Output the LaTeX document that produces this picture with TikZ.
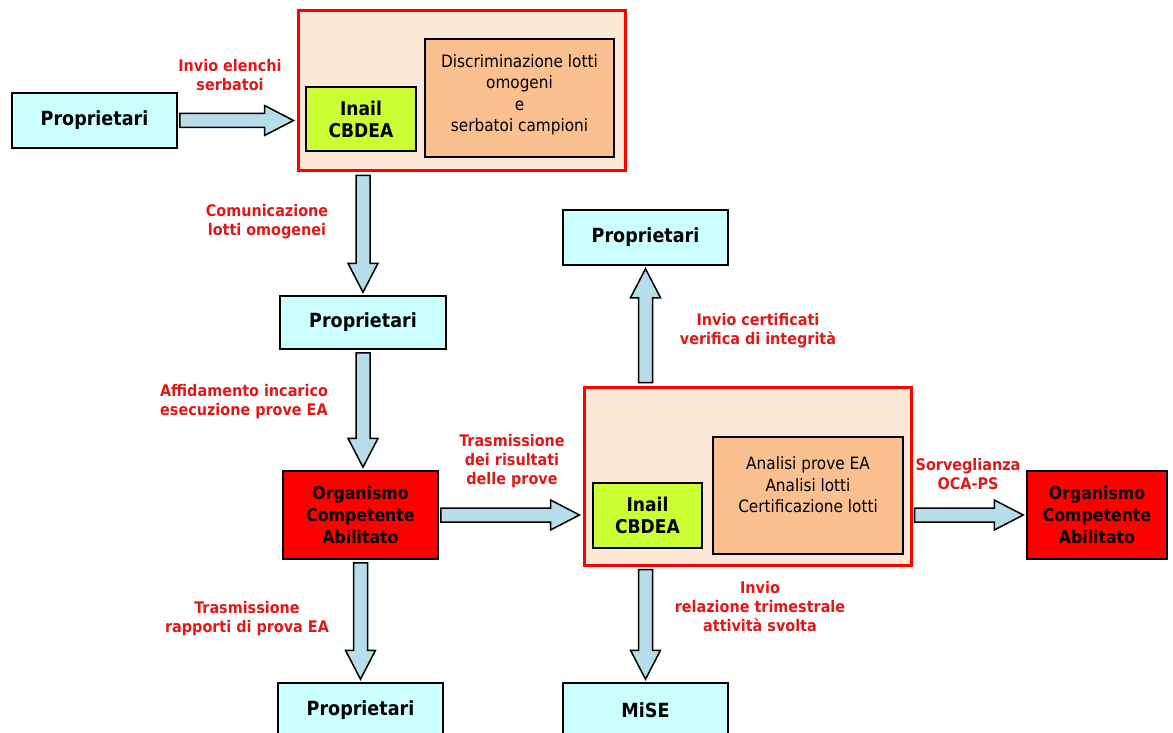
\documentclass[tikz,border=0pt]{standalone}
\usepackage{fontspec}
\setmainfont{DejaVu Sans Condensed}
\usetikzlibrary{calc}
\definecolor{ownercyan}{RGB}{204,255,255}
\definecolor{peachbg}{RGB}{252,232,214}
\definecolor{tanfill}{RGB}{250,192,144}
\definecolor{limefill}{RGB}{204,255,51}
\definecolor{arrowblue}{RGB}{183,221,232}
\definecolor{labelred}{RGB}{226,24,24}
\newcommand{\harrow}[2]{%
  \draw[fatarrow] let \p1=(#1), \p2=(#2) in
    (\x1+2pt,\y1+7pt) -- (\x2-32pt,\y1+7pt) -- (\x2-32pt,\y1+15pt) -- (\x2-3pt,\y1)
    -- (\x2-32pt,\y1-15pt) -- (\x2-32pt,\y1-7pt) -- (\x1+2pt,\y1-7pt) -- cycle;}
\newcommand{\varrow}[2]{%
  \draw[fatarrow] let \p1=(#1), \p2=(#2), \n1={sign(\y2-\y1)} in
    (\x1-7pt,{\y1+\n1*3pt}) -- (\x1-7pt,{\y2-\n1*32pt}) -- (\x1-15pt,{\y2-\n1*32pt}) -- (\x1,{\y2-\n1*3pt})
    -- (\x1+15pt,{\y2-\n1*32pt}) -- (\x1+7pt,{\y2-\n1*32pt}) -- (\x1+7pt,{\y1+\n1*3pt}) -- cycle;}
\begin{document}
\begin{tikzpicture}[x=1pt, y=-1pt,
  ownerbox/.style={draw, line width=1.5pt, fill=ownercyan, minimum width=165pt, minimum height=55pt, font=\bfseries\fontsize{19.5}{22}\selectfont},
  ocabox/.style={draw, line width=1.5pt, fill=red, minimum width=155pt, minimum height=88pt, align=center, font=\bfseries\fontsize{17.5}{22}\selectfont},
  centrebox/.style={draw=red, line width=3pt, fill=peachbg, minimum width=327pt},
  inailbox/.style={draw, line width=1.5pt, fill=limefill, minimum width=110pt, minimum height=64pt, align=center, font=\bfseries\fontsize{19}{22}\selectfont},
  taskbox/.style={draw, line width=1.5pt, fill=tanfill, minimum width=190pt, minimum height=117pt, align=center, font=\fontsize{17}{21.5}\selectfont},
  flowlabel/.style={align=center, text=labelred, font=\bfseries\fontsize{16}{19}\selectfont},
  fatarrow/.style={draw, line width=1.5pt, fill=arrowblue, line join=miter}]
\useasboundingbox (0,0) rectangle (1173,733);
\node[centrebox, minimum height=160pt] (topbox) at (461.5,91) {};
\node[inailbox] (inail1) at (361,119) {Inail\\CBDEA};
\node[taskbox, minimum width=189pt, minimum height=118pt] (discr) at (519.5,98) {Discriminazione lotti\\omogeni\\e\\serbatoi campioni\\[-12pt]\mbox{}};
\node[centrebox, minimum height=178pt] (botbox) at (747.5,476) {};
\node[inailbox, minimum width=109pt, minimum height=65pt] (inail2) at (647.5,515.5) {Inail\\CBDEA};
\node[taskbox] (analisi) at (808,495.5) {Analisi prove EA\\Analisi lotti\\Certificazione lotti\\\mbox{}};
\node[ownerbox] (prop1) at (94.5,120.5) {Proprietari};
\node[ownerbox, minimum width=166pt, minimum height=53pt] (prop2) at (363,322.5) {Proprietari};
\node[ownerbox] (prop3) at (645.5,237.5) {Proprietari};
\node[ownerbox] (prop4) at (360.5,710.5) {Proprietari};
\node[ownerbox] (mise) at (645.5,710.5) {MiSE};
\node[ocabox] (oca1) at (360.5,515) {Organismo\\Competente\\Abilitato};
\node[ocabox, minimum width=140pt] (oca2) at (1097,515) {Organismo\\Competente\\Abilitato};
\node[flowlabel] (lab1) at (230,75) {Invio elenchi\\serbatoi};
\node[flowlabel] (lab2) at (267,222) {Comunicazione\\lotti omogenei};
\node[flowlabel] (lab3) at (244,402) {Affidamento incarico\\esecuzione prove EA};
\node[flowlabel] (lab4) at (247,619) {Trasmissione\\rapporti di prova EA};
\node[flowlabel] (lab5) at (512,461) {Trasmissione\\dei risultati\\delle prove};
\node[flowlabel] (lab6) at (758,331) {Invio certificati\\verifica di integrità};
\node[flowlabel] (lab7) at (760,607) {Invio\\relazione trimestrale\\attività svolta};
\node[flowlabel] (lab8) at (968,474) {Sorveglianza\\OCA-PS};
\harrow{prop1.east}{topbox.west}
\varrow{topbox.south -| prop2.north}{prop2.north}
\varrow{prop2.south}{oca1.north}
\varrow{oca1.south}{prop4.north}
\harrow{oca1.east}{botbox.west}
\harrow{botbox.east |- oca2.west}{oca2.west}
\varrow{botbox.north -| prop3.south}{prop3.south}
\varrow{botbox.south -| mise.north}{mise.north}
\end{tikzpicture}
\end{document}
